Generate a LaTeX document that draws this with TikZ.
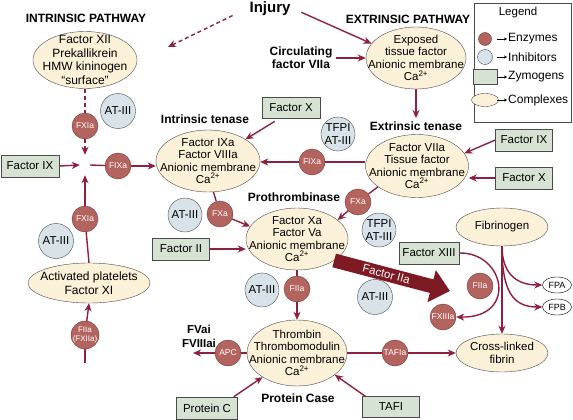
\documentclass[tikz,border=0pt]{standalone}
\usepackage{fontspec}
\setmainfont{Liberation Sans}
\usetikzlibrary{arrows.meta, positioning, shapes.geometric}
\definecolor{mEnz}{HTML}{B4645F}
\definecolor{mEnzLine}{HTML}{6E3532}
\definecolor{mInh}{HTML}{D7E3E8}
\definecolor{mZym}{HTML}{D6E2D2}
\definecolor{mCplx}{HTML}{FBF1D9}
\definecolor{mWine}{HTML}{8E1F3F}
\definecolor{mDark}{HTML}{7D1A24}
\definecolor{mEdge}{HTML}{4A4A4A}

\begin{document}
\begin{tikzpicture}[x=1pt, y=-1pt,
    enz/.style={circle, draw=mEnzLine, fill=mEnz, minimum size=26pt, inner sep=-4pt, align=center, text=white, font=\fontsize{8.5}{9}\selectfont},
    inh/.style={circle, draw=mEdge, fill=mInh, minimum size=35pt, inner sep=-4pt, align=center, font=\fontsize{11.5}{12.5}\selectfont},
    zym/.style={rectangle, draw=mEdge, fill=mZym, minimum width=57pt, minimum height=22pt, inner sep=0pt, font=\fontsize{11.5}{12}\selectfont},
    cplx/.style={ellipse, draw=mEdge, fill=mCplx, inner xsep=-20pt, inner ysep=-10pt, align=center, font=\fontsize{11.5}{12.3}\selectfont},
    hdr/.style={align=center, font=\bfseries\fontsize{12}{13}\selectfont},
    flow/.style={mWine, line width=1.4pt},
    fl/.style={flow, -{Stealth[length=8pt, width=7pt, inset=2.5pt]}},
    dflow/.style={flow, dashed, dash pattern=on 4pt off 3pt},
  ]
  \useasboundingbox (0,0) rectangle (573,420);

  % headings
  \node[hdr] (intrlab) at (86,18) {INTRINSIC PATHWAY};
  \node[hdr, font=\bfseries\fontsize{15}{16}\selectfont] (injury) at (270,9) {Injury};
  \node[hdr] (extrlab) at (408,19) {EXTRINSIC PATHWAY};
  \node[hdr] (circ) at (301,58) {Circulating\\factor VIIa};
  \node[hdr] (inlab) at (205,119) {Intrinsic tenase};
  \node[hdr] (extlab) at (416,126) {Extrinsic tenase};
  \node[hdr] (prlab) at (294,197) {Prothrombinase};
  \node[hdr, font=\bfseries\fontsize{11.5}{14}\selectfont] (fvlab) at (199,336) {FVai\\FVIIIai};
  \node[hdr] (pclab) at (298,398) {Protein Case};

  % intrinsic side
  \node[cplx, minimum width=104pt, minimum height=57pt, font=\fontsize{12}{13.7}\selectfont] (xii) at (85,60) {Factor XII\\Prekallikrein\\HMW kininogen\\“surface”};
  \node[inh] (at1) at (118,111) {AT-III};
  \node[enz] (fxia1) at (85,126) {FXIa};
  \node[minimum width=10pt, minimum height=20pt, inner sep=0pt] (xpt) at (85,165) {};
  \node[zym, minimum width=58pt] (ix1) at (30,166) {Factor IX};
  \node[enz] (fixa1) at (118,166) {FIXa};
  \node[enz] (fxia2) at (85,219) {FXIa};
  \node[inh] (at2) at (56,241) {AT-III};
  \node[cplx, minimum width=122pt, minimum height=40pt, font=\fontsize{12}{13.5}\selectfont] (plat) at (89,283) {Activated platelets\\Factor XI};
  \node[enz, minimum size=28pt, font=\fontsize{8}{9}\selectfont] (fiia1) at (85,335) {FIIa\\(FXIIa)};
  \coordinate (fiistart) at (85,363);
  \coordinate (injtip) at (168,47);

  % extrinsic side
  \node[cplx, minimum width=100pt, minimum height=62pt] (ext) at (416,58) {Exposed\\tissue factor\\Anionic membrane\\Ca\textsuperscript{2+}};
  \node[cplx, minimum width=103pt, minimum height=63pt] (extten) at (417,166) {Factor VIIa\\Tissue factor\\Anionic membrane\\Ca\textsuperscript{2+}};
  \node[zym] (ix2) at (524,140) {Factor IX};
  \node[zym] (x2) at (524,178) {Factor X};
  \node[inh, minimum size=34pt] (tfpi1) at (338,134) {TFPI\\AT-III};
  \node[enz] (fixa2) at (312,162) {FIXa};

  % tenase and prothrombinase
  \node[cplx, minimum width=104pt, minimum height=62pt] (inten) at (208,161) {Factor IXa\\Factor VIIIa\\Anionic membrane\\Ca\textsuperscript{2+}};
  \node[zym, minimum width=58pt, minimum height=21pt] (x1) at (291,108) {Factor X};
  \node[enz] (fxa1) at (220,214) {FXa};
  \node[inh, minimum size=34pt] (at3) at (185,215) {AT-III};
  \node[zym] (ii) at (181,249) {Factor II};
  \node[cplx, minimum width=102pt, minimum height=62pt] (prothr) at (297,239) {Factor Xa\\Factor Va\\Anionic membrane\\Ca\textsuperscript{2+}};
  \node[enz] (fxa2) at (358,202) {FXa};
  \node[inh, minimum size=34pt] (tfpi2) at (379,230) {TFPI\\AT-III};

  % thrombin
  \node[inh, minimum size=34pt] (at4) at (262,290) {AT-III};
  \node[enz] (fiia2) at (297,289) {FIIa};
  \node[inh] (at5) at (375,297) {AT-III};
  \node[cplx, minimum width=100pt, minimum height=66pt] (thr) at (297,353) {Thrombin\\Thrombomodulin\\Anionic membrane\\Ca\textsuperscript{2+}};
  \node[enz] (apc) at (228,353) {APC};
  \coordinate (fvtip) at (193,353);
  \node[zym, minimum width=61pt] (pc) at (207,408) {Protein C};
  \node[zym, minimum height=21pt] (tafi) at (391,407) {TAFI};
  \node[enz] (tafia) at (395,353) {TAFIa};

  % fibrin
  \node[cplx, minimum width=92pt, minimum height=38pt] (fibr) at (502,227) {Fibrinogen};
  \node[cplx, minimum width=92pt, minimum height=38pt, font=\fontsize{11.5}{13.5}\selectfont] (xfib) at (502,353) {Cross-linked\\fibrin};
  \node[zym, minimum width=60pt] (xiii) at (429,253) {Factor XIII};
  \node[enz] (fiia3) at (480,286) {FIIa};
  \node[enz] (fxiiia) at (443,317) {FXIIIa};
  \node[ellipse, draw=black, fill=white, minimum width=29pt, minimum height=16pt, inner sep=-4pt, font=\fontsize{9}{10}\selectfont] (fpa) at (557,285) {FPA};
  \node[ellipse, draw=black, fill=white, minimum width=29pt, minimum height=16pt, inner sep=-4pt, font=\fontsize{9}{10}\selectfont] (fpb) at (557,307) {FPB};
  \coordinate (iiatip) at (450,291);

  % legend
  \node[draw=mEdge, minimum width=97pt, minimum height=119pt, inner sep=0pt] (legbox) at (522.5,62.5) {};
  \node[font=\fontsize{11.5}{12}\selectfont] (leglab) at (518,13) {Legend};
  \tikzset{
    lgenz/.style={enz, minimum size=13pt},
    lginh/.style={inh, minimum size=15pt},
    lgzym/.style={zym, minimum width=24pt, minimum height=15pt},
    lgcpl/.style={cplx, minimum width=27pt, minimum height=13pt}}
  \foreach \yy/\sty/\txt [count=\i] in {39/lgenz/Enzymes, 57/lginh/Inhibitors, 77/lgzym/Zymogens, 100/lgcpl/Complexes} {
    \node[\sty] (ls\i) at (485,\yy) {};
    \node[anchor=west, inner sep=1pt, font=\fontsize{12}{13}\selectfont] (lt\i) at (507,\yy) {\txt};
    \draw[-{Stealth[length=3pt, width=3pt]}, line width=0.6pt] ([xshift=-10pt]lt\i.west) -- (lt\i.west);
  }

  % connectors
  \draw[dflow, -{Stealth[length=8pt, width=7pt, inset=2.5pt]}, shorten <=15pt] (injury.west) -- (injtip);
  \draw[fl, shorten <=8pt] (injury.east) -- (ext.162);
  \draw[fl] (circ.east) -- (ext.west);
  \draw[fl] (ext.south) -- (extlab.north);
  \draw[dflow] (xii.south) -- (fxia1);
  \draw[dflow, -{Stealth[length=8pt, width=7pt, inset=2.5pt]}] (fxia1) -- (xpt.north);
  \draw[fl] (ix1.east) -- (xpt.west);
  \draw[flow] (plat.north) -- (fxia2);
  \draw[fl] (fxia2) -- (xpt.south);
  \draw[flow] (xpt.east) -- (fixa1);
  \draw[fl] (fixa1) -- (inten.west |- fixa1);
  \draw[flow] (fiistart) -- (fiia1);
  \draw[fl] (fiia1) -- (plat.south);
  \draw[fl, shorten <=5pt] ([xshift=-12pt]x1.south) -- (inten.30);
  \draw[flow] (extten.west |- fixa2) -- (fixa2);
  \draw[fl] (fixa2) -- (inten.east |- fixa2);
  \draw[fl] (ix2.west) -- (extten.15);
  \draw[fl] (x2.west) -- (extten.east |- x2.west);
  \draw[flow] (inten.-80) -- (fxa1);
  \draw[fl] (fxa1) -- (prothr.165);
  \draw[fl] (ii.east) -- (prothr.west |- ii.east);
  \draw[flow] (extten.208) -- (fxa2);
  \draw[fl] (fxa2) -- (prothr.25);
  \draw[flow] (prothr.south) -- (fiia2);
  \draw[fl] (fiia2) -- (thr.north);
  \draw[flow] (thr.west) -- (apc);
  \draw[fl] (apc) -- (fvtip);
  \draw[fl] ([xshift=-4pt]pc.north east) -- (thr.215);
  \draw[fl] ([xshift=3pt]tafi.north west) -- (thr.-30);
  \draw[flow] (thr.east) -- (tafia);
  \draw[fl] (tafia) -- (xfib.west);
  \draw[fl] (fibr.south) -- (xfib.north);
  \draw[fl] (fibr.south) .. controls (502,272) and (515,285) .. (fpa.west);
  \draw[fl] (fibr.south) .. controls (502,290) and (512,307) .. (fpb.west);
  \draw[fl] (xiii.east) .. controls (505,252) and (518,318) .. (fxiiia.east);
  \draw[mDark, line width=14pt, -{Triangle[length=19pt, width=32pt]}] (prothr.-30) -- (iiatip)
    node[pos=0.45, sloped, text=white, font=\fontsize{11.5}{12}\selectfont] (iialab) {Factor IIa};
\end{tikzpicture}
\end{document}
